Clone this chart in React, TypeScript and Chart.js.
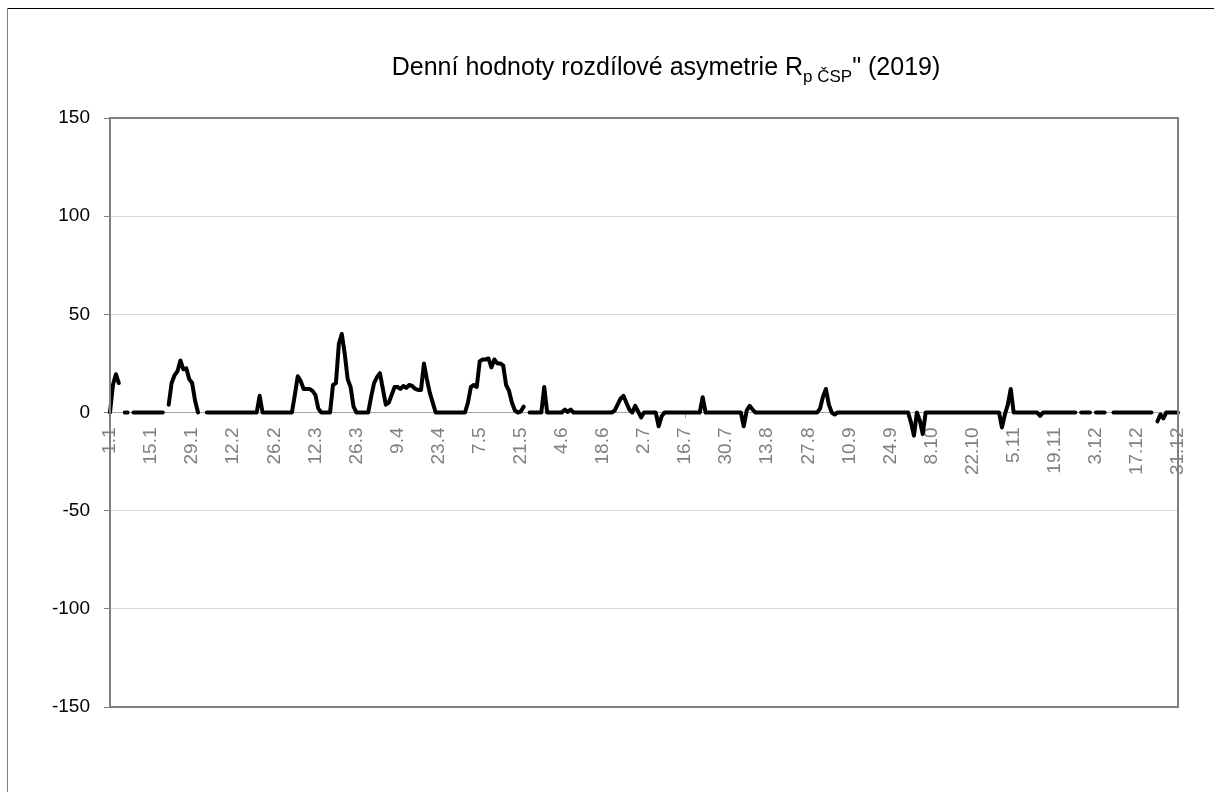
import React, { useEffect, useRef } from "react";
import { Chart, registerables } from "chart.js";

Chart.register(...registerables);

// ---- data ----
const MONTH_DAYS = [31, 28, 31, 30, 31, 30, 31, 31, 30, 31, 30, 31];
const CATEGORIES: string[] = [];
MONTH_DAYS.forEach((n, m) => {
  for (let d = 1; d <= n; d++) CATEGORIES.push(`${d}.${m + 1}`);
});

const TICK_LABELS = [
  "1.1", "15.1", "29.1", "12.2", "26.2", "12.3", "26.3", "9.4", "23.4",
  "7.5", "21.5", "4.6", "18.6", "2.7", "16.7", "30.7", "13.8", "27.8",
  "10.9", "24.9", "8.10", "22.10", "5.11", "19.11", "3.12", "17.12", "31.12",
];

// daily values, two weeks per row (null = missing day)
const VALUES: (number | null)[] = [
  0, 14, 19.5, 15, null, 0, 0, null, 0, 0, 0, 0, 0, 0,
  0, 0, 0, 0, 0, null, 4, 15, 19, 21, 26.5, 22, 22.5, 17,
  15, 6, 0, null, null, 0, 0, 0, 0, 0, 0, 0, 0, 0,
  0, 0, 0, 0, 0, 0, 0, 0, 0, 8.5, 0, 0, 0, 0,
  0, 0, 0, 0, 0, 0, 0, 9, 18.5, 16, 12, 12, 12, 11,
  9, 2, 0, 0, 0, 0, 14, 15, 35, 40, 30, 17, 13, 3,
  0, 0, 0, 0, 0, 8, 15, 18, 20, 12, 4, 5, 9, 13,
  13, 12, 13.5, 12.5, 14, 13.5, 12, 11.5, 11.5, 25, 17, 10, 5, 0,
  0, 0, 0, 0, 0, 0, 0, 0, 0, 0, 5, 13, 14, 13,
  26, 27, 27, 27.5, 23, 27, 25, 25, 24, 14, 11, 5, 1, 0,
  0.5, 3, null, 0, 0, 0, 0, 0, 13, 0, 0, 0, 0, 0,
  0, 1.5, 0.3, 1.5, 0, 0, 0, 0, 0, 0, 0, 0, 0, 0,
  0, 0, 0, 0, 1, 4, 7, 8.5, 5, 1.5, 0, 3.4, 0.5, -2.5,
  0, 0, 0, 0, 0, -7, -2, 0, 0, 0, 0, 0, 0, 0,
  0, 0, 0, 0, 0, 0, 7.8, 0, 0, 0, 0, 0, 0, 0,
  0, 0, 0, 0, 0, 0, -7, 1, 3.4, 1.5, 0, 0, 0, 0,
  0, 0, 0, 0, 0, 0, 0, 0, 0, 0, 0, 0, 0, 0,
  0, 0, 0, 0, 2, 8, 12, 4, 0, -1, 0, 0, 0, 0,
  0, 0, 0, 0, 0, 0, 0, 0, 0, 0, 0, 0, 0, 0,
  0, 0, 0, 0, 0, 0, 0, -5, -11.8, 0, -4, -11, 0, 0,
  0, 0, 0, 0, 0, 0, 0, 0, 0, 0, 0, 0, 0, 0,
  0, 0, 0, 0, 0, 0, 0, 0, 0, 0, -7.6, -1, 4, 12,
  0, 0, 0, 0, 0, 0, 0, 0, 0, -1.7, 0, 0, 0, 0,
  0, 0, 0, 0, 0, 0, 0, 0, null, 0, 0, 0, 0, null,
  0, 0, 0, 0, null, null, 0, 0, 0, 0, 0, 0, 0, 0,
  0, 0, 0, 0, 0, 0, null, -4.5, -1, -3, 0, 0, 0, 0,
  0,
];

const Y_MIN = -150;
const Y_MAX = 150;
const Y_STEP = 50;

const TITLE_MAIN = "Denní hodnoty rozdílové asymetrie R";
const TITLE_SUB = "p ČSP";
const TITLE_END = '" (2019)';

const FONT = '"Liberation Sans", Arial, sans-serif';
const TICK_SET = new Set(TICK_LABELS);

const decorPlugin = {
  id: "decor",
  afterDraw(chart: any) {
    const { ctx, chartArea } = chart;
    ctx.save();
    // outer chart border
    ctx.fillStyle = "#000";
    ctx.fillRect(7, 8, 1214 - 7, 1);
    ctx.fillStyle = "#808080";
    ctx.fillRect(7, 8, 1, 792 - 8);
    // plot area frame
    ctx.strokeStyle = "#808080";
    ctx.lineWidth = 2;
    ctx.strokeRect(
      chartArea.left,
      chartArea.top,
      chartArea.right - chartArea.left,
      chartArea.bottom - chartArea.top
    );
    // title with subscript
    const mainFont = `25px ${FONT}`;
    const subFont = `17px ${FONT}`;
    ctx.fillStyle = "#000";
    ctx.textBaseline = "alphabetic";
    ctx.textAlign = "left";
    ctx.font = mainFont;
    const w1 = ctx.measureText(TITLE_MAIN).width;
    const w3 = ctx.measureText(TITLE_END).width;
    ctx.font = subFont;
    const w2 = ctx.measureText(TITLE_SUB).width;
    const total = w1 + w2 + w3;
    const cx = 666;
    const by = 75;
    let x = cx - total / 2;
    ctx.font = mainFont;
    ctx.fillText(TITLE_MAIN, x, by);
    x += w1;
    ctx.font = subFont;
    ctx.fillText(TITLE_SUB, x, by + 7);
    x += w2;
    ctx.font = mainFont;
    ctx.fillText(TITLE_END, x, by);
    ctx.restore();
  },
};

export default function App() {
  const ref = useRef<HTMLCanvasElement | null>(null);

  useEffect(() => {
    if (!ref.current) return;
    const chart = new Chart(ref.current, {
      type: "line",
      data: {
        labels: CATEGORIES,
        datasets: [
          {
            data: VALUES,
            borderColor: "#000",
            borderWidth: 4,
            pointRadius: 0,
            pointHoverRadius: 0,
            tension: 0,
            spanGaps: false,
            borderJoinStyle: "round",
            borderCapStyle: "round",
            fill: false,
          },
        ],
      },
      options: {
        responsive: false,
        animation: false,
        devicePixelRatio: 1,
        layout: { padding: { left: 0, top: 118, right: 36, bottom: 85 } },
        plugins: {
          legend: { display: false },
          tooltip: { enabled: false },
          title: { display: false },
        },
        scales: {
          x: {
            type: "category",
            position: { y: 0 },
            offset: false,
            afterFit: (scale: any) => {
              scale.height = 0;
            },
            grid: {
              display: true,
              drawOnChartArea: false,
              drawTicks: true,
              tickLength: 5,
              tickWidth: 1,
              tickColor: (c: any) =>
                TICK_SET.has(CATEGORIES[c.index]) ? "#a6a6a6" : "rgba(0,0,0,0)",
            },
            border: { display: true, color: "#a6a6a6", width: 1 },
            ticks: {
              autoSkip: false,
              minRotation: 90,
              maxRotation: 90,
              padding: 10,
              color: "#808080",
              font: { family: FONT, size: 19 },
              callback: (_v: any, i: number) =>
                TICK_SET.has(CATEGORIES[i]) ? CATEGORIES[i] : null,
            },
          },
          y: {
            min: Y_MIN,
            max: Y_MAX,
            afterFit: (scale: any) => {
              scale.width = 110;
            },
            grid: {
              color: "#d9d9d9",
              lineWidth: 1,
              tickColor: "#808080",
              tickLength: 6,
            },
            border: { display: true, color: "#808080", width: 2 },
            ticks: {
              stepSize: Y_STEP,
              color: "#000",
              padding: 14,
              font: { family: FONT, size: 19 },
            },
          },
        },
      },
      plugins: [decorPlugin],
    });
    return () => chart.destroy();
  }, []);

  return (
    <div
      style={{
        position: "absolute",
        left: 0,
        top: 0,
        width: 1214,
        height: 792,
        background: "#fff",
      }}
    >
      <canvas ref={ref} width={1214} height={792} />
    </div>
  );
}
